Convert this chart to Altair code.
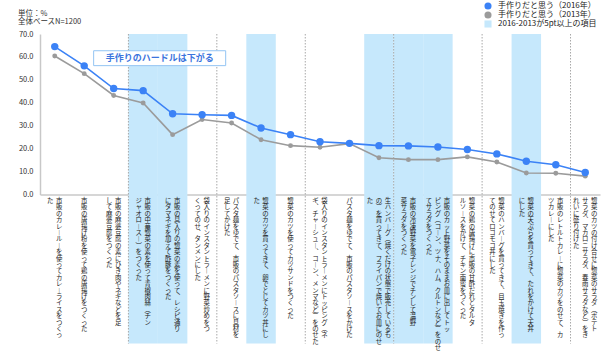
import altair as alt
import pandas as pd

# ---------------- data ----------------
labels = [
    "市販のカレールーを使ってカレーライスをつくっ\nた",
    "市販の唐揚げ粉を使って鶏の唐揚げをつくった",
    "市販の麻婆豆腐の素にひき肉やネギなどを足\nして麻婆豆腐をつくった",
    "市販の中華惣菜の素を使って青椒肉絲（チン\nジャオロース―）をつくった",
    "市販の具入りの惣菜の素を使って、レシピ通り\nにタマネギを加えて酢豚をつくった",
    "袋入りのインスタントラーメンに野菜炒めをつ\nくってのせ、タンメンにした",
    "パスタ麺をゆでて、市販のパスタソースに具材を\n足してかけた",
    "惣菜のカツを買ってきて、卵でとじてカツ丼にし\nた",
    "惣菜のカツを使ってカツサンドをつくった",
    "袋入りのインスタントラーメンにトッピング（ネ\nギ、チャーシュー、コーン、メンマなど）をのせた",
    "パスタ麺をゆでて、市販のパスタソースをかけた",
    "生ハンバーグ（焼くだけの状態で販売しているも\nの）を買ってきて、フライパンで焼いてお皿にのせ\nた",
    "市販の冷凍野菜を電子レンジでチンして温野\n菜サラダをつくった",
    "市販のカット野菜をそのままお皿に出してトッ\nピング（コーン、ツナ、ハム、クルトンなど）をのせ\nてサラダをつくった",
    "惣菜の鶏の唐揚げに市販の甘酢だれとタルタ\nルソースをかけて、チキン南蛮をつくった",
    "惣菜のハンバーグを買ってきて、目玉焼きを作っ\nてのせてロコモコ丼にした",
    "惣菜の天ぷらを買ってきて、たれをかけて天丼\nにした",
    "市販のレトルトカレーに惣菜のカツをのせて、カ\nツカレーにした",
    "惣菜のカツの付け合せに惣菜のサラダ（ポテト\nサラダ、マカロニサラダ、春雨サラダなど）をき\nれいに盛り付けた",
]
val_2016 = [64.5, 56.1, 46.2, 45.3, 35.2, 34.8, 34.5, 29.0, 26.1, 23.0,
            22.3, 21.3, 21.2, 20.7, 19.6, 17.7, 14.5, 13.0, 9.6]
val_2013 = [60.4, 52.7, 43.2, 39.9, 26.1, 32.7, 31.2, 23.9, 21.3, 20.6,
            22.2, 16.0, 15.2, 15.2, 16.4, 14.2, 9.4, 9.3, 8.0]
highlighted = [4, 5, 8, 12, 13, 14, 17]   # 1-based item numbers (2016-2013 >= 5pt)
group_size = 3
y_ticks = [0, 10, 20, 30, 40, 50, 60, 70]

s16 = "手作りだと思う（2016年）"
s13 = "手作りだと思う（2013年）"
shl = "2016-2013が5pt以上の項目"
series_domain = [s16, s13, shl]
series_colors = ["#3B82F6", "#9B9B9B", "#C6E8FC"]

unit_lines = ["単位：%", "全体ベースN=1200"]
note_text = "手作りのハードルは下がる"

FONT = "Noto Sans CJK JP"

# ---------------- tables ----------------
rows = []
for i, (a, b) in enumerate(zip(val_2016, val_2013)):
    rows.append({"idx": i, "value": b, "series": s13, "order": 0})
    rows.append({"idx": i, "value": a, "series": s16, "order": 1})
df_lines = pd.DataFrame(rows)

df_hl = pd.DataFrame({"idx": [h - 1 for h in highlighted], "series": shl})
df_div = pd.DataFrame({"idx": list(range(len(labels)))})
df_unit = pd.DataFrame({"line": list(range(len(unit_lines))), "text": unit_lines})

vert = {"ー": "︱", "―": "︱", "、": "︑", "（": "︵", "）": "︶"}
lab_rows = []
for i, lab in enumerate(labels):
    cols = lab.split("\n")
    n = len(cols)
    for j, c in enumerate(cols):
        txt = "\n".join(vert.get(ch, ch) for ch in c)
        lab_rows.append({"idx": i, "slot": (n - 1) - 2 * j, "text": txt})
df_lab = pd.DataFrame(lab_rows)

# ---------------- scales & axes ----------------
xs = alt.Scale(domain=[-0.5, len(labels) - 0.5], nice=False, zero=False)
ys = alt.Scale(domain=[0, 70], nice=False, zero=False)
cs = alt.Scale(domain=series_domain, range=series_colors)
shp = alt.Scale(domain=series_domain, range=["circle", "circle", "square"])

x_axis = alt.Axis(labels=False, ticks=False, grid=False, title=None,
                  domainColor="#C8C8C8", domainWidth=1.5)
y_axis = alt.Axis(values=y_ticks, format=".1f", title=None,
                  ticks=False, grid=False, labelFontSize=7.5, labelFont=FONT,
                  labelColor="#333", labelPadding=7, labelOverlap=False,
                  labelFlush=False, domainColor="#C8C8C8", domainWidth=1.5)

leg = alt.Legend(orient="none", legendX=444, legendY=-32, title=None,
                 labelFontSize=8, labelFont=FONT, labelColor="#222",
                 symbolSize=50, labelOffset=6, rowPadding=1, padding=0,
                 symbolStrokeWidth=0)

# shading bands
shade = alt.Chart(df_hl).transform_calculate(
    x0="datum.idx - 0.5", x1="datum.idx + 0.5"
).mark_rect(opacity=1).encode(
    x=alt.X("x0:Q", scale=xs, axis=x_axis),
    x2="x1:Q",
    y=alt.YDatum(70, scale=ys, axis=y_axis),
    y2=alt.datum(-65),
    color=alt.Color("series:N", scale=cs, legend=leg),
)

# dotted group dividers
divs = alt.Chart(df_div).transform_filter(
    f"datum.idx > 0 && datum.idx % {group_size} == 0"
).transform_calculate(xd="datum.idx - 0.5").mark_rule(
    color="#A8A8A8", strokeDash=[1.5, 1.5], strokeWidth=1
).encode(
    x=alt.X("xd:Q", scale=xs, axis=x_axis),
    y=alt.YDatum(70, scale=ys, axis=y_axis),
    y2=alt.datum(-65),
)

lines = alt.Chart(df_lines).mark_line(strokeWidth=1.6).encode(
    x=alt.X("idx:Q", scale=xs, axis=x_axis),
    y=alt.Y("value:Q", scale=ys, axis=y_axis),
    color=alt.Color("series:N", scale=cs, legend=leg),
    detail="series:N",
    order="order:Q",
)

points = alt.Chart(df_lines).mark_point(filled=True, opacity=1, strokeWidth=0).encode(
    x=alt.X("idx:Q", scale=xs, axis=x_axis),
    y=alt.Y("value:Q", scale=ys, axis=y_axis),
    color=alt.Color("series:N", scale=cs, legend=leg),
    shape=alt.Shape("series:N", scale=shp, legend=leg),
    size=alt.Size("series:N", scale=alt.Scale(domain=[s16, s13], range=[55, 24]), legend=None),
)

note_box = alt.Chart(df_div).transform_filter("datum.idx == 0").mark_rect(
    fill="white", stroke="#93C4F3", strokeWidth=1
).encode(
    x=alt.XDatum(1.32, scale=xs, axis=x_axis), x2=alt.datum(5.8),
    y=alt.YDatum(62.7, scale=ys, axis=y_axis), y2=alt.datum(56.2),
)
note = alt.Chart(df_div).transform_filter("datum.idx == 0").mark_text(
    text=note_text, font=FONT, fontSize=9, fontWeight="bold", color="#3B74DD",
    align="center", baseline="middle"
).encode(x=alt.XDatum(3.56, scale=xs, axis=x_axis),
         y=alt.YDatum(59.5, scale=ys, axis=y_axis))

# unit / base note at top-left
unit = alt.Chart(df_unit).transform_calculate(
    yy="78.8 - datum.line * 3.5"
).mark_text(
    font=FONT, fontSize=7.5, color="#333", align="left", baseline="middle"
).encode(
    x=alt.XDatum(-1.25, scale=xs, axis=x_axis),
    y=alt.Y("yy:Q", scale=ys, axis=y_axis),
    text="text:N",
)

labs = alt.Chart(df_lab).transform_calculate(
    xp="datum.idx + datum.slot * 0.152"
).mark_text(
    lineBreak="\n", lineHeight=6.4, fontSize=6.4, font=FONT, color="#222",
    align="center", baseline="top"
).encode(
    x=alt.X("xp:Q", scale=xs, axis=x_axis),
    y=alt.YDatum(-1.5, scale=ys, axis=y_axis),
    text="text:N",
)

chart = alt.layer(shade, divs, lines, points, note_box, note, unit, labs).properties(
    width=560, height=160.5,
    padding={"left": 40, "top": 34, "right": 10, "bottom": 157.5},
    autosize=alt.AutoSizeParams(type="none"),
).configure_view(stroke=None).resolve_legend(color="shared", shape="shared")

chart.save("out.html", embed_options={"renderer": "svg", "actions": False})
